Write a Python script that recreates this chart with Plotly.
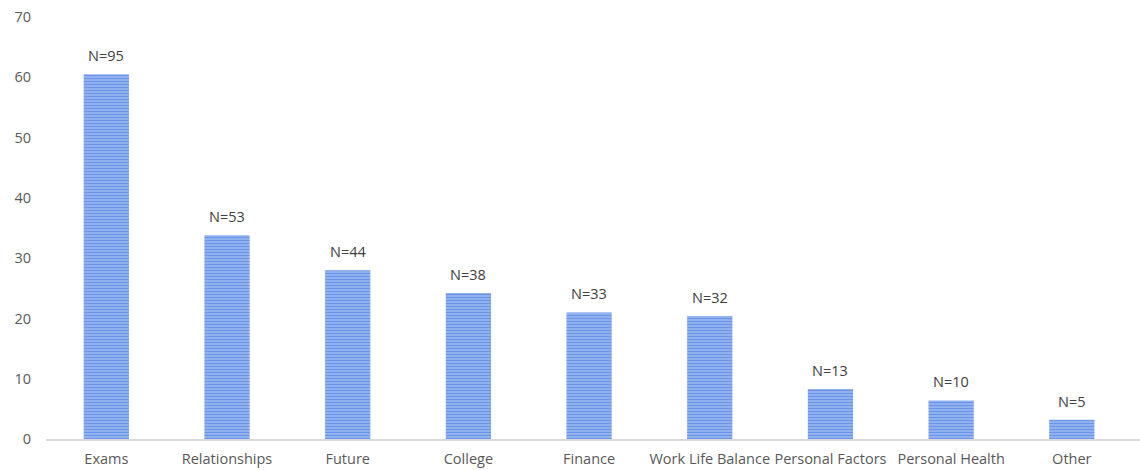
import plotly.graph_objects as go

categories = ["Exams", "Relationships", "Future", "College", "Finance",
              "Work Life Balance", "Personal Factors", "Personal Health", "Other"]
percent = [60.5, 33.8, 28.0, 24.2, 21.0, 20.4, 8.3, 6.4, 3.2]
counts = [95, 53, 44, 38, 33, 32, 13, 10, 5]
labels = [f"N={n}" for n in counts]
y_ticks = [0, 10, 20, 30, 40, 50, 60, 70]

FONT = "Open Sans, Liberation Sans, sans-serif"

fig = go.Figure()
fig.add_trace(go.Bar(
    x=categories, y=percent, width=0.375,
    marker=dict(
        color="#6f96e6",
        line=dict(width=0),
        pattern=dict(shape="-", size=3, solidity=0.5,
                     fgcolor="#3b6ddc", bgcolor="#9cbaf2", fillmode="overlay"),
    ),
    hoverinfo="skip",
))

for c, v, t in zip(categories, percent, labels):
    fig.add_annotation(x=c, y=v, text=t, showarrow=False, yanchor="bottom",
                       yshift=7, font=dict(size=14.5, color="#404040", family=FONT))

fig.update_layout(
    width=1140, height=470,
    margin=dict(l=46, r=0, t=17, b=31),
    plot_bgcolor="white", paper_bgcolor="white",
    showlegend=False,
    font=dict(family=FONT, size=14.5, color="#595959"),
)
fig.update_xaxes(
    range=[-0.5, 8.565], showline=True, linecolor="#d9d9d9", linewidth=1.5,
    showgrid=False, ticks="", ticklabelstandoff=6,
    tickfont=dict(size=14.5, color="#595959"),
)
fig.update_yaxes(
    range=[0, 70], tickvals=y_ticks, showgrid=False, zeroline=False,
    showline=False, ticks="", ticklabelstandoff=14, ticklabeloverflow="allow",
    tickfont=dict(size=14.5, color="#595959"),
)

fig.write_html("out.html",
               config={"displayModeBar": False},
               post_script="document.body.style.margin='0px';")
